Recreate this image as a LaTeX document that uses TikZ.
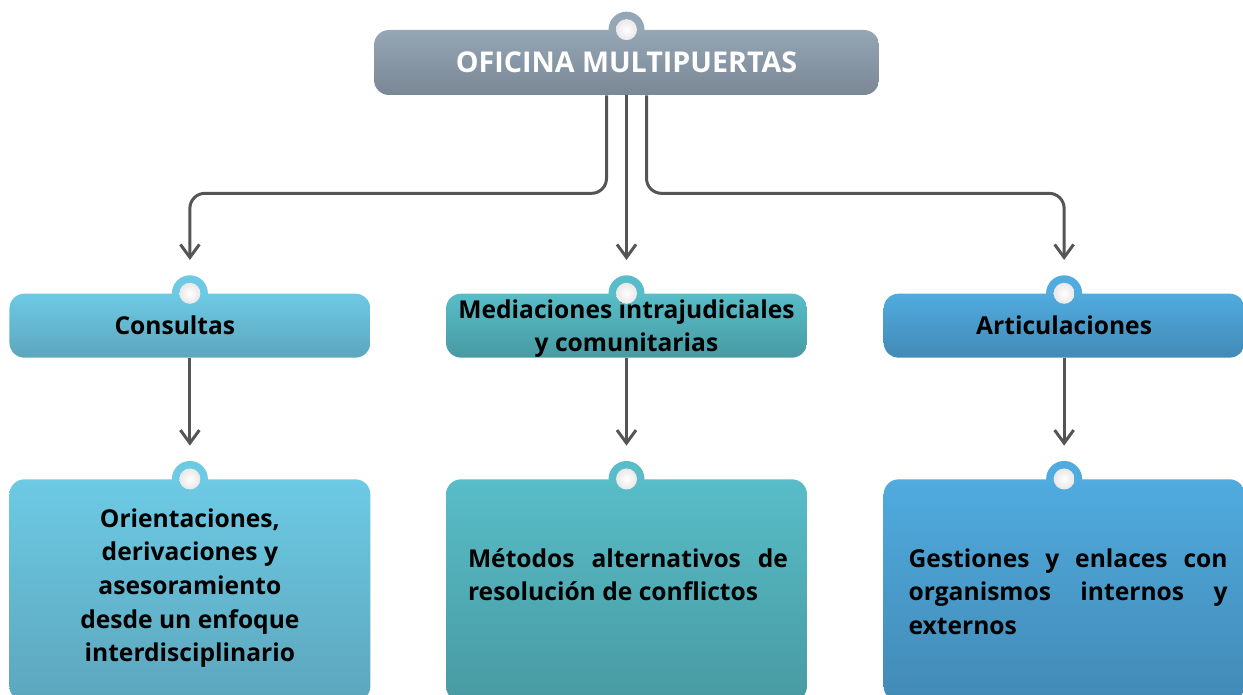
\documentclass[tikz,border=0pt]{standalone}
\usepackage{fontspec}
\setmainfont{Open Sans}
\usetikzlibrary{positioning,calc,arrows.meta,backgrounds}

\definecolor{grayTop}{HTML}{95A6B5}
\definecolor{grayBot}{HTML}{7A8795}
\definecolor{consTop}{HTML}{6DCAE4}
\definecolor{consBot}{HTML}{5CA6BD}
\definecolor{medTop}{HTML}{58BDC8}
\definecolor{medBot}{HTML}{489AA2}
\definecolor{artTop}{HTML}{50ABDE}
\definecolor{artBot}{HTML}{428AB6}
\definecolor{linkgray}{HTML}{555555}

\begin{document}
\begin{tikzpicture}[x=0.02cm,y=-0.02cm,
    box/.style={rounded corners=0.3cm,inner sep=0pt,minimum width=7.22cm,
        minimum height=1.28cm,align=center,
        font=\fontsize{14}{18.5}\selectfont\bfseries},
    tab/.style={circle,inner sep=0pt,minimum size=0.72cm},
    dot/.style={circle,inner sep=0pt,minimum size=0.42cm,
        inner color=white,outer color=black!9},
    link/.style={draw=linkgray,line width=1.7pt,shorten >=0.3cm,
        -{Straight Barb[length=0.26cm,width=0.38cm]}},
    txt/.style={inner sep=0pt,font=\fontsize{14}{19.2}\selectfont\bfseries}
    ]
    \useasboundingbox (0,0) rectangle (1243,695);
    \clip (0,0) rectangle (1243,695);
    %% Top
    \node[box,minimum width=10.1cm,minimum height=1.3cm,top color=grayTop,
        bottom color=grayBot,text=white,
        font=\fontsize{16.3}{19}\selectfont\bfseries]
        (oficina) at (626.5,62.5) {OFICINA MULTIPUERTAS};
    %% Second row
    \node[box,top color=medTop,bottom color=medBot,below=3.96cm of oficina]
        (mediaciones) {\rule{0pt}{14pt}Mediaciones intrajudiciales\\y comunitarias};
    \node[box,top color=consTop,bottom color=consBot,left=1.5cm of mediaciones]
        (consultas) {\hspace*{-0.6cm}Consultas};
    \node[box,top color=artTop,bottom color=artBot,right=1.52cm of mediaciones]
        (articulaciones) {Articulaciones};
    %% Third row
    \node[box,top color=consTop,bottom color=consBot,minimum height=4.44cm,
        below=2.42cm of consultas] (orientaciones) {};
    \node[box,top color=medTop,bottom color=medBot,minimum height=4.44cm,
        below=2.42cm of mediaciones] (metodos) {};
    \node[box,top color=artTop,bottom color=artBot,minimum height=4.44cm,
        below=2.42cm of articulaciones] (gestiones) {};
    \node[txt,align=center,anchor=north] (orientaciones-txt)
        at ($(orientaciones.north)+(0,29)$)
        {Orientaciones,\\derivaciones y\\asesoramiento\\desde un enfoque\\interdisciplinario};
    \node[txt,text width=6.4cm,align=justify,anchor=north west] (metodos-txt)
        at ($(metodos.north west)+(22,69)$)
        {Métodos alternativos de\linebreak resolución de conflictos};
    \node[txt,text width=6.38cm,align=justify,anchor=north west] (gestiones-txt)
        at ($(gestiones.north west)+(25,69)$)
        {Gestiones y enlaces con\linebreak organismos internos y\linebreak externos};
    %% Tabs
    \begin{scope}[on background layer]
        \foreach \b/\c in {oficina/grayTop,consultas/consTop,mediaciones/medTop,
            articulaciones/artTop,orientaciones/consTop,metodos/medTop,gestiones/artTop}
            \node[tab,fill=\c] (\b-tab) at (\b.north) {};
    \end{scope}
    \foreach \b in {oficina,consultas,mediaciones,articulaciones,
        orientaciones,metodos,gestiones}
        \node[dot] (\b-dot) at (\b.north) {};
    %% Connectors
    \draw[link,rounded corners=0.3cm] ($(oficina.south)+(-20,0)$) -- ++(0,98)
        -| (consultas-tab.north);
    \draw[link] (oficina.south) -- (mediaciones-tab.north);
    \draw[link,rounded corners=0.3cm] ($(oficina.south)+(20,0)$) -- ++(0,98)
        -| (articulaciones-tab.north);
    \draw[link] (consultas.south) -- (orientaciones-tab.north);
    \draw[link] (mediaciones.south) -- (metodos-tab.north);
    \draw[link] (articulaciones.south) -- (gestiones-tab.north);
\end{tikzpicture}
\end{document}
